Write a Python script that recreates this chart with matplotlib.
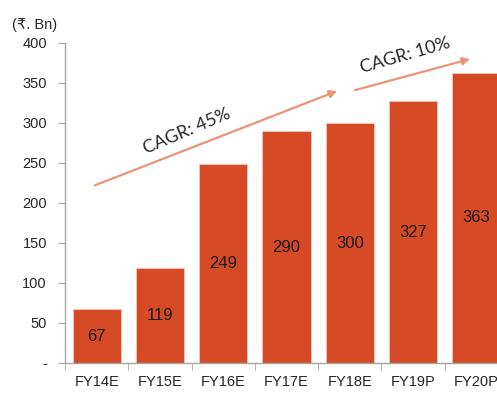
import matplotlib
matplotlib.use("Agg")
import matplotlib.pyplot as plt
import numpy as np

categories = ["FY14E", "FY15E", "FY16E", "FY17E", "FY18E", "FY19P", "FY20P"]
values = [67, 119, 249, 290, 300, 327, 363]
y_ticks = [0, 50, 100, 150, 200, 250, 300, 350, 400]
y_tick_labels = ["-", "50", "100", "150", "200", "250", "300", "350", "400"]
cagr_labels = ["CAGR: 45%", "CAGR: 10%"]

BAR_COLOR = "#D64A25"
ARROW_COLOR = "#EA9478"
AXIS_COLOR = "#A6A6A6"
TEXT_COLOR = "#262626"

plt.rcParams["font.family"] = ["Liberation Sans", "DejaVu Sans"]

fig = plt.figure(figsize=(4.97, 3.94), dpi=100)
# right edge runs past the figure, like the cropped original
ax = fig.add_axes([65 / 497, 31 / 394, 443 / 497, 320 / 394])

x = np.arange(len(categories))
bars = ax.bar(x, values, width=0.76, color=BAR_COLOR,
              edgecolor="#F3C9BC", linewidth=0.6)
for xi, v in zip(x, values):
    ax.text(xi, v / 2, str(v), ha="center", va="center",
            fontsize=12, color="#1A1A1A")

ax.set_xlim(-0.5, len(categories) - 0.5)
ax.set_ylim(0, 400)
ax.set_yticks(y_ticks)
ax.set_yticklabels(y_tick_labels)
ax.set_xticks(x)
ax.set_xticklabels(categories)
ax.set_xticks(np.arange(len(categories) + 1) - 0.5, minor=True)
ax.tick_params(axis="x", which="major", length=0, pad=9,
               labelsize=10.5, labelcolor=TEXT_COLOR)
ax.tick_params(axis="x", which="minor", length=5, color=AXIS_COLOR)
ax.tick_params(axis="y", length=5, color=AXIS_COLOR, pad=8,
               labelsize=10.5, labelcolor=TEXT_COLOR)

for side in ["top", "right"]:
    ax.spines[side].set_visible(False)
for side in ["left", "bottom"]:
    ax.spines[side].set_color(AXIS_COLOR)
    ax.spines[side].set_linewidth(1.0)

# growth arrows
ax.annotate("", xy=(3.8, 340), xytext=(-0.03, 222),
            arrowprops=dict(arrowstyle="-|>", color=ARROW_COLOR, lw=1.6,
                            mutation_scale=11, shrinkA=0, shrinkB=0),
            annotation_clip=False)
ax.annotate("", xy=(5.9, 380), xytext=(4.08, 341),
            arrowprops=dict(arrowstyle="-|>", color=ARROW_COLOR, lw=1.6,
                            mutation_scale=11, shrinkA=0, shrinkB=0),
            annotation_clip=False)
ax.text(1.43, 290, cagr_labels[0], rotation=23, ha="center", va="center",
        fontsize=13, color=TEXT_COLOR, family=["Lato", "DejaVu Sans"],
        rotation_mode="anchor")
ax.text(4.88, 384, cagr_labels[1], rotation=16, ha="center", va="center",
        fontsize=13, color=TEXT_COLOR, family=["Lato", "DejaVu Sans"],
        rotation_mode="anchor", clip_on=False)

fig.text(12 / 497, 1 - 25 / 394, "(\u20b9. Bn)", ha="left", va="center",
         fontsize=10.5, color=TEXT_COLOR)

fig.savefig("out.png", dpi=100)
